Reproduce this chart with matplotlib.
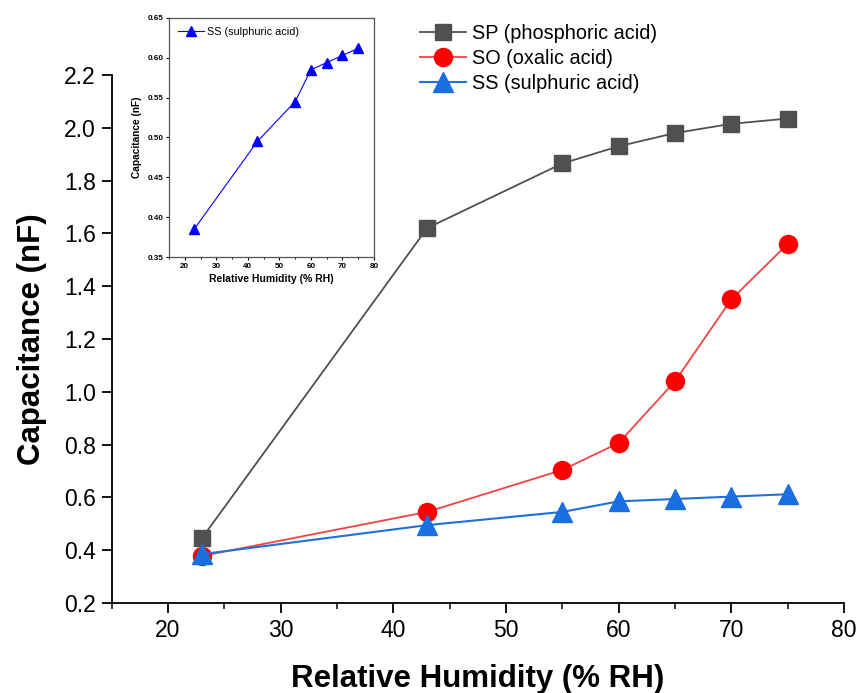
import matplotlib
matplotlib.use("Agg")
import matplotlib.pyplot as plt
from matplotlib.ticker import MultipleLocator

plt.rcParams['font.family'] = ['Liberation Sans', 'DejaVu Sans']

rh = [23, 43, 55, 60, 65, 70, 75]
sp = [0.445, 1.62, 1.865, 1.93, 1.98, 2.015, 2.035]
so = [0.378, 0.545, 0.704, 0.806, 1.04, 1.35, 1.56]
ss = [0.385, 0.495, 0.545, 0.585, 0.594, 0.603, 0.612]

fig = plt.figure(figsize=(8.58, 6.93), dpi=100)
ax = fig.add_axes([111.7/858, 1-603/693, (844-111.7)/858, (603-75)/693])

ax.plot(rh, sp, color='#505050', lw=1.3, marker='s', ms=11.5,
        mfc='#505050', mec='#505050', label='SP (phosphoric acid)')
ax.plot(rh, so, color='#f04545', lw=1.3, marker='o', ms=13,
        mfc='#ff0000', mec='#ff0000', label='SO (oxalic acid)')
ax.plot(rh, ss, color='#2070d8', lw=1.5, marker='^', ms=14,
        mfc='#1a6fe0', mec='#1a6fe0', label='SS (sulphuric acid)')

ax.set_xlim(15, 80)
ax.set_ylim(0.2, 2.2)
ax.xaxis.set_major_locator(MultipleLocator(10))
ax.xaxis.set_minor_locator(MultipleLocator(5))
ax.set_yticks([0.2, 0.4, 0.6, 0.8, 1.0, 1.2, 1.4, 1.6, 1.8, 2.0, 2.2])
ax.set_yticklabels(['0.2', '0.4', '0.6', '0.8', '1.0', '1.2', '1.4', '1.6', '1.8', '2.0', '2.2'])
ax.spines['top'].set_visible(False)
ax.spines['right'].set_visible(False)
for s in ['left', 'bottom']:
    ax.spines[s].set_linewidth(1.3)
ax.tick_params(axis='both', which='major', direction='out', length=7.5, width=1.3,
               labelsize=16.5, pad=4)
ax.tick_params(axis='x', which='minor', direction='out', length=4, width=1.1)
ax.set_xlabel('Relative Humidity (% RH)', fontsize=22.5, fontweight='bold', labelpad=16)
ax.set_ylabel('Capacitance (nF)', fontsize=22.5, fontweight='bold', labelpad=12)

fig.legend(loc='upper left', bbox_to_anchor=(420/858, 1-24/693), frameon=False,
           fontsize=14.3, handlelength=2.3, handletextpad=0.3, labelspacing=0.3,
           borderpad=0, borderaxespad=0)

# inset
ins = fig.add_axes([169/858, 1-257/693, (374-169)/858, (257-18)/693])
ins.plot(rh, ss, color='#0000ff', lw=0.8, marker='^', ms=6.5,
         mfc='#0000ff', mec='#0000ff', label='SS (sulphuric acid)')
ins.set_xlim(15, 80)
ins.set_ylim(0.35, 0.65)
ins.xaxis.set_major_locator(MultipleLocator(10))
ins.xaxis.set_minor_locator(MultipleLocator(5))
ins.set_yticks([0.35, 0.40, 0.45, 0.50, 0.55, 0.60, 0.65])
ins.set_yticklabels(['0.35', '0.40', '0.45', '0.50', '0.55', '0.60', '0.65'])
for s in ins.spines.values():
    s.set_linewidth(0.9)
    s.set_color('#555555')
ins.tick_params(axis='both', which='major', direction='out', length=2.5, width=0.8,
                labelsize=5.8, pad=1.5)
ins.tick_params(axis='x', which='minor', direction='out', length=1.5, width=0.7)
for lab in ins.get_xticklabels() + ins.get_yticklabels():
    lab.set_fontweight('bold')
ins.set_xlabel('Relative Humidity (% RH)', fontsize=7.5, fontweight='bold', labelpad=3)
ins.set_ylabel('Capacitance (nF)', fontsize=7.3, fontweight='bold', labelpad=4)
ins.legend(loc='upper left', frameon=False, fontsize=7.8, handlelength=2.4,
           handletextpad=0.3, borderaxespad=0.4)

fig.savefig('out.png', dpi=100)
